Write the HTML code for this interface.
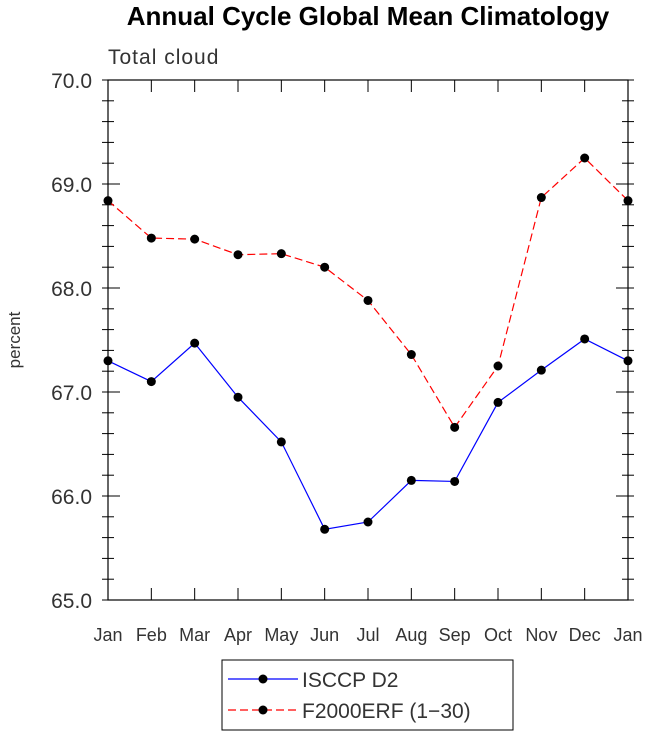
<!DOCTYPE html>
<html><head><meta charset="utf-8"><style>
html,body{margin:0;padding:0;background:#fff;}
svg{display:block;font-family:"Liberation Sans",sans-serif;}
</style></head><body>
<svg id="chart" width="648" height="736" viewBox="0 0 648 736">
<text x="368" y="25" text-anchor="middle" font-size="26" font-weight="bold" fill="#000">Annual Cycle Global Mean Climatology</text>
<text x="108" y="64" font-size="21" fill="#333" letter-spacing="1">Total cloud</text>
<text transform="translate(20,340) rotate(-90)" text-anchor="middle" font-size="17" fill="#333">percent</text>
<g id="ticks"></g>
<g id="series"></g>
<rect x="108" y="80" width="520" height="520" fill="none" stroke="#000" stroke-width="1.2"/>
<g>
<rect x="222" y="660" width="291" height="70" fill="#fff" stroke="#000" stroke-width="1"/>
<line x1="228" y1="679" x2="298" y2="679" stroke="#0000ff" stroke-width="1.2"/>
<circle cx="263" cy="679" r="4.5" fill="#000"/>
<text x="302" y="687" font-size="21" fill="#333">ISCCP D2</text>
<line x1="228" y1="710" x2="298" y2="710" stroke="#ff0000" stroke-width="1.2" stroke-dasharray="8,4"/>
<circle cx="263" cy="710" r="4.5" fill="#000"/>
<text x="302" y="718" font-size="21" fill="#333">F2000ERF (1−30)</text>
</g>
</svg>
<script>
const months = ["Jan","Feb","Mar","Apr","May","Jun","Jul","Aug","Sep","Oct","Nov","Dec","Jan"];
const isccp = [67.30,67.10,67.47,66.95,66.52,65.68,65.75,66.15,66.14,66.90,67.21,67.51,67.30];
const f2000 = [68.84,68.48,68.47,68.32,68.33,68.20,67.88,67.36,66.66,67.25,68.87,69.25,68.84];
const yTicks = [65,66,67,68,69,70];
const yTickLabels = ["65.0","66.0","67.0","68.0","69.0","70.0"];
const NS="http://www.w3.org/2000/svg";
const X0=108,X1=628,Y0=600,Y1=80,YMIN=65,YMAX=70;
const xs=i=>X0+(X1-X0)*i/(months.length-1);
const ys=v=>Y0-(v-YMIN)/(YMAX-YMIN)*(Y0-Y1);
function mk(t,a,p){const e=document.createElementNS(NS,t);for(const k in a)e.setAttribute(k,a[k]);p.appendChild(e);return e;}
const tg=document.getElementById('ticks'), sg=document.getElementById('series');
months.forEach((m,i)=>{
  const x=xs(i);
  mk('line',{x1:x,y1:Y0,x2:x,y2:Y0-12,stroke:'#000'},tg);
  mk('line',{x1:x,y1:Y1,x2:x,y2:Y1+12,stroke:'#000'},tg);
  const t=mk('text',{x:x,y:641,'text-anchor':'middle','font-size':18,fill:'#333'},tg);
  t.textContent=m;
  
  
});
for(let v=YMIN;v<=YMAX+1e-9;v+=0.2){
  const y=ys(v), major=Math.abs(v-Math.round(v))<1e-6, L=major?12:6;
  mk('line',{x1:X0,y1:y,x2:X0+L,y2:y,stroke:'#000'},tg);
  mk('line',{x1:X1,y1:y,x2:X1-L,y2:y,stroke:'#000'},tg);
  mk('line',{x1:X0,y1:y,x2:X0-6,y2:y,stroke:'#000'},tg);
  mk('line',{x1:X1,y1:y,x2:X1+6,y2:y,stroke:'#000'},tg);
}
yTicks.forEach((v,i)=>{
  const t=mk('text',{x:92,y:ys(v)+8,'text-anchor':'end','font-size':21,fill:'#333'},tg);
  t.textContent=yTickLabels[i];
  
  
});
function series(vals,color,dash,name){
  const pts=vals.map((v,i)=>xs(i)+','+ys(v)).join(' ');
  const pl=mk('polyline',{points:pts,fill:'none',stroke:color,'stroke-width':1.2},sg);
  if(dash)pl.setAttribute('stroke-dasharray',dash);
  
  
  vals.forEach((v,i)=>{
    const c=mk('circle',{cx:xs(i),cy:ys(v),r:4.5,fill:'#000'},sg);
    
    
  });
}
series(isccp,'#0000ff',null,'isccp');
series(f2000,'#ff0000','8,4','f2000erf');
</script>
</body></html>
